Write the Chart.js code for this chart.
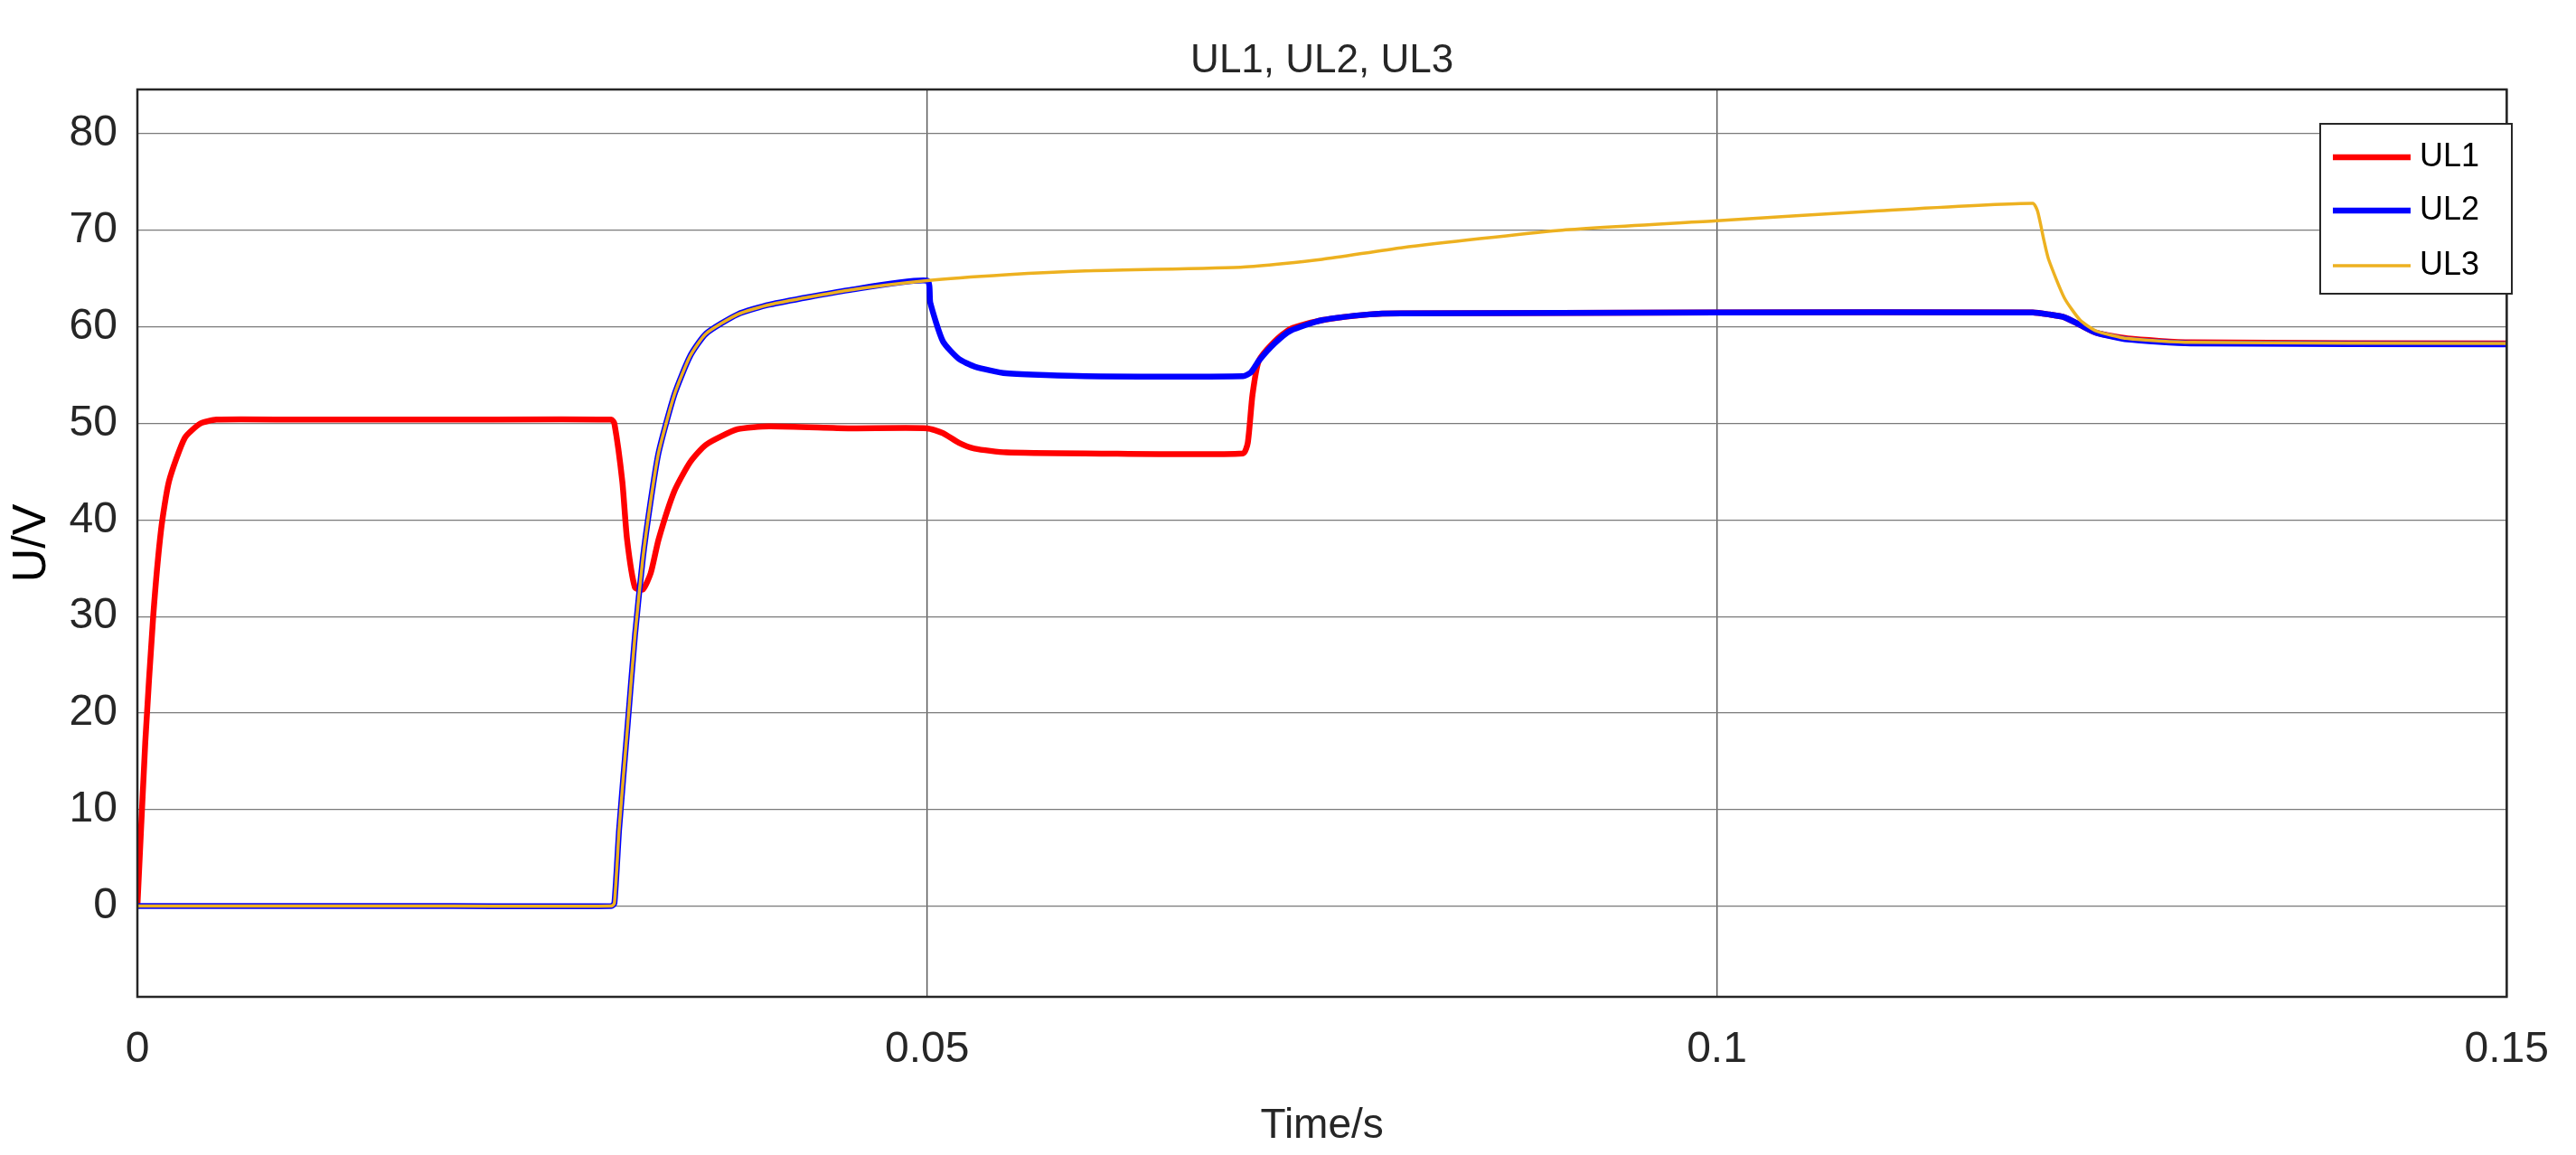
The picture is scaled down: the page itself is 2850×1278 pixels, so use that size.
<!DOCTYPE html>
<html><head><meta charset="utf-8">
<script src="https://cdn.jsdelivr.net/npm/chart.js@4"></script>
<style>html,body{margin:0;padding:0;background:#fff}#w{width:2850px;height:1278px}</style>
</head><body><div id="w"><canvas id="c"></canvas></div>
<script>
const FONT = "'Liberation Sans Narrow', 'Liberation Sans', Arial, sans-serif";
const chartTitle = "UL1, UL2, UL3";
const xLabel = "Time/s";
const yLabel = "U/V";
const seriesNames = ["UL1", "UL2", "UL3"];
const seriesColors = ["#ff0000", "#0000ff", "#edb120"];
const xTickLabels = {0: "0", 0.05: "0.05", 0.1: "0.1", 0.15: "0.15"};

const ul1T = [0,0.0005,0.001,0.0015,0.002,0.003,0.004,0.005,0.01,0.02,0.030,0.0302,0.0307,0.031,0.0315,0.032,0.0325,0.033,0.034,0.035,0.036,0.038,0.040,0.045,0.050,0.051,0.052,0.053,0.055,0.060,0.070,0.0703,0.0706,0.071,0.072,0.073,0.075,0.078,0.080,0.100,0.120,0.121,0.122,0.123,0.124,0.126,0.130,0.150];
const ul1V = [0,17,30,39,44,48.5,50,50.4,50.4,50.4,50.4,50,44,38,33,32.8,34.5,38,43,46,47.8,49.4,49.7,49.5,49.5,49,48,47.4,47,46.9,46.9,48,53,56.5,58.5,59.8,60.7,61.3,61.4,61.5,61.5,61.3,61,60.2,59.4,58.8,58.4,58.3];

const ul2T = [0,0.010,0.020,0.030,0.0302,0.0305,0.031,0.0315,0.032,0.0325,0.033,0.034,0.035,0.036,0.038,0.040,0.045,0.050,0.0502,0.051,0.052,0.053,0.055,0.060,0.070,0.0705,0.071,0.072,0.073,0.075,0.078,0.080,0.100,0.120,0.121,0.122,0.123,0.124,0.126,0.130,0.150];
const ul2V = [0,0,0,0,0.3,8,18,28,36,42,47,53,57,59.3,61.3,62.3,63.8,64.8,62.5,58.5,56.7,55.9,55.2,54.9,54.9,55.3,56.5,58.3,59.6,60.7,61.3,61.4,61.5,61.5,61.3,61,60.2,59.4,58.7,58.3,58.2];

const ul3T = [0,0.010,0.020,0.030,0.0302,0.0305,0.031,0.0315,0.032,0.0325,0.033,0.034,0.035,0.036,0.038,0.040,0.045,0.050,0.055,0.060,0.070,0.075,0.080,0.090,0.100,0.110,0.120,0.1203,0.1207,0.121,0.122,0.123,0.124,0.126,0.130,0.150];
const ul3V = [0,0,0,0,0.3,8,18,28,36,42,47,53,57,59.3,61.3,62.3,63.8,64.8,65.4,65.8,66.2,67,68.2,70,71,72,72.8,72,69,67,63,60.7,59.6,58.8,58.4,58.3];

const seriesT = [ul1T, ul2T, ul3T];
const seriesV = [ul1V, ul2V, ul3V];
const widths = [6.5, 6.5, 3.5];

const datasets = seriesNames.map((n,i)=>({
  label:n, data: seriesT[i].map((t,j)=>({x:t,y:seriesV[i][j]})),
  borderColor:seriesColors[i], borderWidth:widths[i], pointRadius:0, tension:0.2, fill:false
})).reverse();

const deco = {
  id:'deco',
  afterDraw(chart){
    const ctx = chart.ctx, a = chart.chartArea;
    ctx.save();
    ctx.strokeStyle = '#262626'; ctx.lineWidth = 2.5;
    ctx.strokeRect(a.left, a.top, a.right-a.left, a.bottom-a.top);
    ctx.fillStyle = '#262626';
    ctx.font = `44px ${FONT}`; ctx.textAlign='center'; ctx.textBaseline='middle';
    ctx.fillText(chartTitle, (a.left+a.right)/2, 68);
    const bx=2567, by=137, bw=212, bh=188;
    ctx.fillStyle='#fff'; ctx.fillRect(bx,by,bw,bh);
    ctx.strokeStyle='#262626'; ctx.lineWidth=2; ctx.strokeRect(bx,by,bw,bh);
    const rows=[174,233,294];
    ctx.font = `36px ${FONT}`; ctx.textAlign='left';
    seriesNames.forEach((n,i)=>{
      ctx.strokeStyle=seriesColors[i]; ctx.lineWidth=widths[i];
      ctx.beginPath(); ctx.moveTo(bx+14,rows[i]); ctx.lineTo(bx+100,rows[i]); ctx.stroke();
      ctx.fillStyle='#000'; ctx.fillText(n,bx+110,rows[i]);
    });
    ctx.restore();
  }
};

new Chart(document.getElementById('c'), {
  type:'line',
  data:{datasets},
  plugins:[deco],
  options:{
    responsive:true, maintainAspectRatio:false, animation:false,
    layout:{padding:{top:99,right:45,left:0,bottom:0}},
    plugins:{legend:{display:false}, title:{display:false}, tooltip:{enabled:false}},
    scales:{
      x:{type:'linear', min:0, max:0.15,
        afterFit(s){s.height=175;},
        border:{display:false},
        grid:{color:'#4d4d4d', lineWidth:1.3, drawTicks:false},
        ticks:{stepSize:0.05, padding:30, color:'#262626', font:{family:FONT,size:48},
          callback:v=>{const k=Math.round(v*100)/100; return xTickLabels[k]!==undefined?xTickLabels[k]:'';}},
        title:{display:true,text:xLabel,color:'#262626',font:{family:FONT,size:46},padding:{top:0}}
      },
      y:{min:-9.4, max:84.6,
        afterFit(s){s.width=152;},
        border:{display:false},
        grid:{color:'#7a7a7a', lineWidth:1.3, drawTicks:false},
        afterBuildTicks(s){s.ticks=[0,10,20,30,40,50,60,70,80].map(v=>({value:v}));},
        ticks:{padding:22, color:'#262626', font:{family:FONT,size:48},
          callback:v=>String(v)},
        title:{display:true,text:yLabel,color:'#000',font:{family:FONT,size:52},padding:{bottom:4}}
      }
    }
  }
});
</script></body></html>
